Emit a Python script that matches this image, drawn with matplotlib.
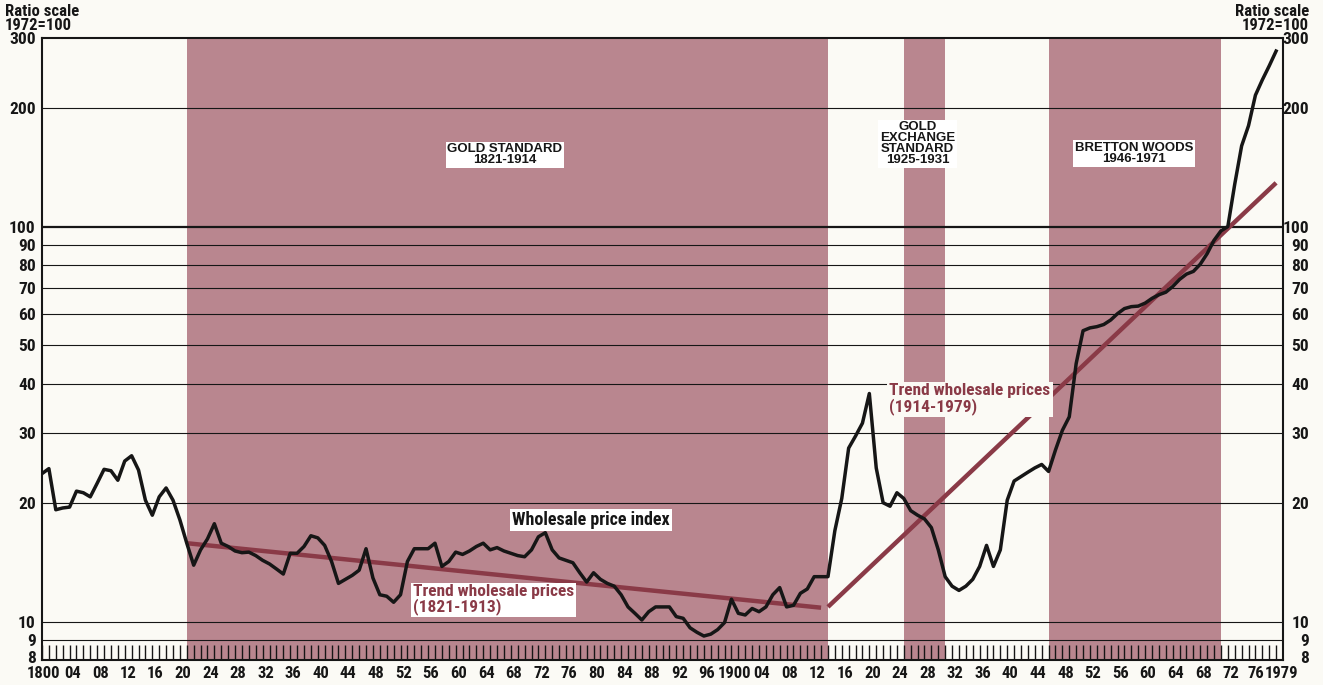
import numpy as np
import matplotlib
matplotlib.use("Agg")
import matplotlib.pyplot as plt
from matplotlib.ticker import NullLocator, FixedLocator
from matplotlib.transforms import ScaledTranslation

BG = "#FBFAF5"
BAND = "#B9868F"
TREND = "#8A3A47"
INK = "#161616"
FONT = ["Liberation Sans Narrow", "Roboto Condensed", "Liberation Sans", "DejaVu Sans"]
WIDE = ["Liberation Sans", "DejaVu Sans"]

# wholesale price index, 1972=100, one value per year 1800-1979
years = np.arange(1800, 1980)
wpi = [
    23.7, 24.4, 19.2, 19.4, 19.5, 21.4, 21.2, 20.7, 22.4, 24.3,
    24.1, 22.8, 25.5, 26.3, 24.2, 20.3, 18.6, 20.7, 21.8, 20.3,
    18.1, 15.8, 13.9, 15.2, 16.2, 17.7, 15.8, 15.5, 15.1, 14.95,
    15.0, 14.7, 14.3, 14.0, 13.6, 13.2, 14.9, 14.9, 15.5, 16.5,
    16.3, 15.6, 14.2, 12.5, 12.8, 13.1, 13.5, 15.3, 12.9, 11.7,
    11.6, 11.2, 11.7, 14.2, 15.3, 15.3, 15.3, 15.8, 13.8, 14.2,
    15.0, 14.8, 15.1, 15.5, 15.8, 15.2, 15.4, 15.1, 14.9, 14.7,
    14.6, 15.2, 16.4, 16.8, 15.2, 14.5, 14.3, 14.1, 13.3, 12.6,
    13.3, 12.8, 12.5, 12.3, 11.7, 10.9, 10.5, 10.1, 10.6, 10.9,
    10.9, 10.9, 10.3, 10.2, 9.65, 9.4, 9.2, 9.3, 9.55, 9.95,
    11.4, 10.5, 10.4, 10.8, 10.6, 10.9, 11.7, 12.2, 10.9, 11.0,
    11.8, 12.1, 13.0, 13.0, 13.0, 17.0, 20.5, 27.5, 29.5, 31.8,
    37.8, 24.5, 20.0, 19.6, 21.2, 20.5, 19.1, 18.6, 18.2, 17.3,
    15.2, 13.0, 12.3, 12.0, 12.3, 12.8, 13.8, 15.6, 13.8, 15.2,
    20.3, 22.7, 23.3, 23.9, 24.5, 25.0, 24.0, 27.2, 30.5, 33.0,
    45.0, 54.5, 55.4, 55.8, 56.5, 58.0, 60.2, 62.0, 62.7, 62.9,
    64.0, 65.8, 67.2, 68.2, 70.5, 73.5, 75.8, 77.0, 80.3, 85.4,
    92.3, 97.5, 100.0, 128.0, 160.0, 180.0, 215.0, 235.0, 255.0, 278.0,
]

# fitted trends, endpoints only
trend1_years = [1821, 1913]
trend1_vals = [15.8, 10.85]
trend2_years = [1914, 1979]
trend2_vals = [10.9, 129.0]

# monetary regimes
regime_start = [1821, 1925, 1946]
regime_end = [1914, 1931, 1971]
regime_names = ["GOLD STANDARD\n1821-1914",
                "GOLD\nEXCHANGE\nSTANDARD\n1925-1931",
                "BRETTON WOODS\n1946-1971"]

grid_vals = [9, 10, 20, 30, 40, 50, 60, 70, 80, 90, 200]
ytick_vals = [8, 9, 10, 20, 30, 40, 50, 60, 70, 80, 90, 100, 200, 300]

xtick_years = list(range(1800, 1977, 4)) + [1979]
xtick_labels = []
for y in xtick_years:
    if y in (1800, 1900, 1979):
        xtick_labels.append(str(y))
    else:
        xtick_labels.append("%02d" % (y % 100))

W, H = 1323, 685
fig = plt.figure(figsize=(W / 100, H / 100), dpi=100, facecolor=BG)
ax = fig.add_axes([42 / W, 1 - 660 / H, (1283 - 42) / W, (660 - 38) / H])
ax.set_facecolor(BG)
ax.set_yscale("log")
ax.set_xlim(1800, 1980)
ax.set_ylim(8, 300)

for s, e in zip(regime_start, regime_end):
    ax.axvspan(s, e, color=BAND, lw=0, zorder=0)

for v in grid_vals:
    ax.axhline(v, color=INK, lw=0.8, zorder=1)
ax.axhline(100, color=INK, lw=1.6, zorder=1)

ax.plot(trend1_years, trend1_vals, color=TREND, lw=3.2, zorder=2,
        solid_capstyle="butt")
ax.plot(trend2_years, trend2_vals, color=TREND, lw=3.2, zorder=2,
        solid_capstyle="butt")
ax.plot(years, wpi, color=INK, lw=2.5, zorder=3, solid_joinstyle="round")

for sp in ax.spines.values():
    sp.set_linewidth(1.5)
    sp.set_color(INK)


def shift(artist, dx, dy):
    artist.set_transform(artist.get_transform()
                         + ScaledTranslation(dx / 100, dy / 100,
                                             fig.dpi_scale_trans))


# y axis: labels both sides, right-aligned on both, no tick marks
ax.yaxis.set_major_locator(FixedLocator(ytick_vals))
ax.yaxis.set_minor_locator(NullLocator())
ax.set_yticklabels([str(v) for v in ytick_vals])
ax.tick_params(axis="y", length=0, pad=4.5, labelleft=True, labelright=True,
               labelsize=12.5, labelcolor=INK)
for v, tick in zip(ytick_vals, ax.yaxis.get_major_ticks()):
    for lab in (tick.label1, tick.label2):
        lab.set_family(FONT)
        lab.set_fontweight("bold")
    tick.label2.set_horizontalalignment("right")
    dy = 3 if v == 8 else 0
    shift(tick.label1, 0, dy)
    shift(tick.label2, 20, dy)

# x axis: a tick per year, labels every four years
ax.set_xticks(xtick_years)
ax.set_xticklabels(xtick_labels)
ax.set_xticks(range(1800, 1980), minor=True)
ax.tick_params(axis="x", which="both", direction="in", length=11, width=1.0,
               color=INK, pad=4, labelsize=12, labelcolor=INK)

# year labels sit a touch right of their ticks; the two ends are nudged
# so they clear their neighbours
xlabs = ax.get_xticklabels()
for i, lab in enumerate(xlabs):
    lab.set_family(FONT)
    lab.set_fontweight("bold")
    if i == 0:
        dx = 2
    elif i == len(xlabs) - 1:
        dx = 5
    elif i == len(xlabs) - 2:
        dx = 0
    else:
        dx = 3
    shift(lab, dx, 0)

label_box = dict(boxstyle="square,pad=0.12", fc="white", ec="none")
txt = dict(family=FONT, fontweight="bold", zorder=5)
rtxt = dict(family=WIDE, fontweight="bold", zorder=5)

ax.text(1867.1, 152, regime_names[0], ha="center", va="center", fontsize=9.5,
        linespacing=0.9, color=INK, bbox=label_box, **rtxt)
ax.text(1927.0, 162, regime_names[1], ha="center", va="center", fontsize=9.5,
        linespacing=0.9, color=INK, bbox=label_box, **rtxt)
ax.text(1958.4, 153, regime_names[2], ha="center", va="center", fontsize=9.5,
        linespacing=0.9, color=INK, bbox=label_box, **rtxt)

ax.text(1879.6, 18.1, "Wholesale price index", ha="center", va="center",
        fontsize=13, color=INK, bbox=label_box, **txt)
ax.text(1853.8, 11.37, "Trend wholesale prices\n(1821-1913)", ha="left",
        va="center", fontsize=12.5, linespacing=0.95, color=TREND,
        bbox=label_box, **txt)
ax.text(1922.9, 36.6, "Trend wholesale prices\n(1914-1979)", ha="left",
        va="center", fontsize=12.5, linespacing=0.95, color=TREND,
        bbox=dict(boxstyle="square,pad=0.12", fc=BG, ec="none"), **txt)

fig.text(5 / W, 1 - 4 / H, "Ratio scale\n1972=100", ha="left", va="top",
         fontsize=12, linespacing=0.9, color=INK, family=FONT,
         fontweight="bold")
fig.text(1309 / W, 1 - 4 / H, "Ratio scale\n1972=100", ha="right", va="top",
         multialignment="right", fontsize=12, linespacing=0.9, color=INK,
         family=FONT, fontweight="bold")

fig.savefig("out.png", dpi=100, facecolor=BG)
